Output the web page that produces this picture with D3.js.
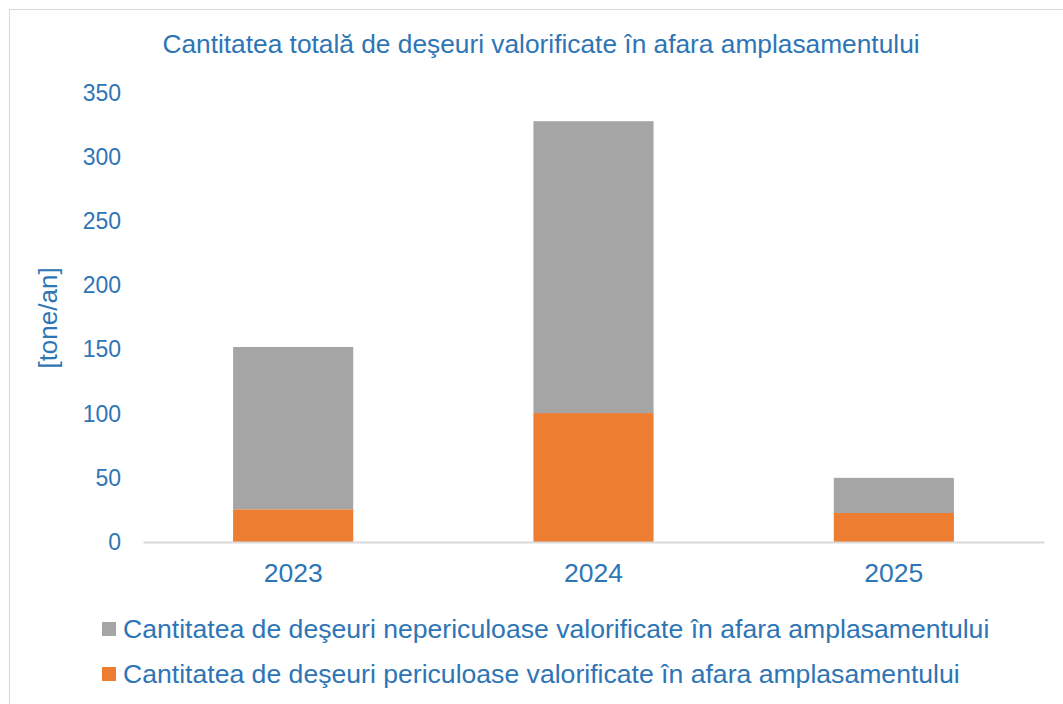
<!DOCTYPE html>
<html>
<head>
<meta charset="utf-8">
<script src="https://cdn.jsdelivr.net/npm/d3@7"></script>
<style>
  body { margin: 0; background: #fff; }
  text { font-family: "Liberation Sans", Arial, sans-serif; fill: #2e75b6; }
</style>
</head>
<body>
<svg id="chart" width="1063" height="704"></svg>
<script>
// Data
var years = ['2023', '2024', '2025'];
var periculoase = [25.5, 100.5, 22.6];
var nepericuloase = [126.5, 227.5, 27.4];
var yTicks = [0, 50, 100, 150, 200, 250, 300, 350];
var seriesNames = [
  'Cantitatea de deşeuri nepericuloase valorificate în afara amplasamentului',
  'Cantitatea de deşeuri periculoase valorificate în afara amplasamentului'
];
var title = 'Cantitatea totală de deşeuri valorificate în afara amplasamentului';

var svg = d3.select('#chart');

// chart frame
svg.append('rect')
  .attr('x', 9.5).attr('y', 9.5)
  .attr('width', 1100).attr('height', 800)
  .attr('fill', '#fff')
  .attr('stroke', '#d9d9d9');

var plot = { left: 143, right: 1044, top: 93, bottom: 542 };

var x = d3.scaleBand()
  .domain(years)
  .range([plot.left, plot.right])
  .paddingInner(0.6)
  .paddingOuter(0.3);

var y = d3.scaleLinear()
  .domain([0, 350])
  .range([plot.bottom, plot.top]);

/* stack the two series: periculoase at the bottom */
var rows = years.map(function(d, i) {
  return { year: d, per: periculoase[i], neper: nepericuloase[i] };
});
var stack = d3.stack().keys(['per', 'neper'])(rows);
var colors = { per: '#ed7d31', neper: '#a5a5a5' };

svg.append('g').selectAll('g')
  .data(stack)
  .enter().append('g')
  .attr('fill', function(s) { return colors[s.key]; })
  .selectAll('rect')
  .data(function(s) { return s; })
  .enter().append('rect')
  .attr('x', function(d) { return x(d.data.year); })
  .attr('y', function(d) { return y(d[1]); })
  .attr('width', x.bandwidth())
  .attr('height', function(d) { return y(d[0]) - y(d[1]); });

// y axis labels (no axis line)
var yAxis = svg.append('g')
  .attr('transform', 'translate(' + (plot.left - 22) + ',0)')
  .call(d3.axisLeft(y).tickValues(yTicks).tickSize(0).tickPadding(0));
yAxis.select('.domain').remove();
yAxis.selectAll('text')
  .style('font-size', '23px')
  .style('font-family', '"Liberation Sans", Arial, sans-serif')
  .attr('fill', '#2e75b6');

// x axis
var xAxis = svg.append('g')
  .attr('transform', 'translate(0,' + plot.bottom + ')')
  .call(d3.axisBottom(x).tickSize(0).tickPadding(21));
xAxis.select('.domain')
  .attr('stroke', '#d9d9d9')
  .attr('stroke-width', 2);
xAxis.selectAll('text')
  .style('font-size', '26.5px')
  .style('font-family', '"Liberation Sans", Arial, sans-serif')
  .attr('fill', '#2e75b6');

// title
svg.append('text')
  .attr('x', 541).attr('y', 53)
  .attr('text-anchor', 'middle')
  .style('font-size', '26.3px')
  .text(title);

// y axis title
svg.append('text')
  .attr('transform', 'translate(57,318) rotate(-90)')
  .attr('text-anchor', 'middle')
  .style('font-size', '26px')
  .text('[tone/an]');

// legend
var legend = svg.append('g').selectAll('g')
  .data(seriesNames)
  .enter().append('g')
  .attr('transform', function(d, i) { return 'translate(102,' + (629 + i * 45) + ')'; });

legend.append('rect')
  .attr('x', 0).attr('y', -7)
  .attr('width', 14).attr('height', 14)
  .attr('fill', function(d, i) { return i === 0 ? colors.neper : colors.per; });

legend.append('text')
  .attr('x', 21).attr('y', 9)
  .style('font-size', '26.6px')
  .text(function(d) { return d; });
</script>
</body>
</html>
